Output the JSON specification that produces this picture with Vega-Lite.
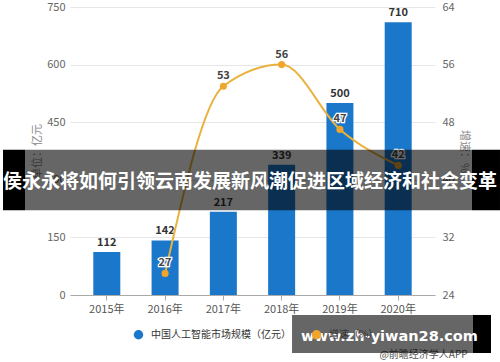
{
  "$schema": "https://vega.github.io/schema/vega-lite/v6.json",
  "width": 365,
  "height": 288,
  "autosize": {"type": "none"},
  "padding": {"left": 70, "top": 7, "right": 65, "bottom": 67},
  "background": "white",
  "config": {
    "view": {"stroke": null},
    "font": "Noto Sans CJK SC",
    "axis": {"labelFont": "Noto Sans CJK SC", "titleFont": "Noto Sans CJK SC"},
    "legend": {"labelFont": "Noto Sans CJK SC"}
  },
  "data": {
    "values": [
      {"year": "2015年", "size": 112, "rate": null},
      {"year": "2016年", "size": 142, "rate": 27},
      {"year": "2017年", "size": 217, "rate": 53},
      {"year": "2018年", "size": 339, "rate": 56},
      {"year": "2019年", "size": 500, "rate": 47},
      {"year": "2020年", "size": 710, "rate": 42}
    ]
  },
  "layer": [
    {
      "encoding": {
        "x": {
          "field": "year", "type": "nominal", "sort": null,
          "scale": {"paddingInner": 0.537, "paddingOuter": 0.4},
          "axis": {
            "title": null, "labelAngle": 0, "labelColor": "#555", "labelFontSize": 11,
            "tickColor": "#aaa", "tickSize": 5, "domainColor": "#aaa", "labelPadding": 3, "grid": false
          }
        },
        "y": {
          "field": "size", "type": "quantitative",
          "scale": {"domain": [0, 750], "nice": false},
          "axis": {
            "values": [0, 150, 300, 450, 600, 750], "title": "单位：亿元",
            "titleColor": "#888", "titleFontSize": 11, "titleFontWeight": "normal", "titlePadding": 4,
            "labelColor": "#666", "labelFontSize": 11, "labelPadding": 5,
            "ticks": false, "domain": false, "grid": true, "gridColor": "#e6e6e6"
          }
        }
      },
      "layer": [
        {
          "mark": {"type": "bar", "width": 27},
          "encoding": {
            "color": {
              "datum": "中国人工智能市场规模（亿元）",
              "scale": {"domain": ["中国人工智能市场规模（亿元）", "增速（%）"], "range": ["#1b77c9", "#f0a62c"]},
              "legend": {
                "title": null, "orient": "none", "direction": "horizontal", "legendX": 63, "legendY": 322,
                "symbolType": "circle", "symbolSize": 90, "labelFontSize": 10, "labelColor": "#333",
                "labelOffset": 7, "columnPadding": 20, "zindex": -1
              }
            }
          }
        },
        {
          "mark": {"type": "text", "dy": -9, "fontSize": 11, "fontWeight": "bold", "color": "#333"},
          "encoding": {"text": {"field": "size", "type": "quantitative"}}
        }
      ]
    },
    {
      "transform": [{"filter": "datum.rate != null"}],
      "encoding": {
        "x": {"field": "year", "type": "nominal", "sort": null},
        "y": {
          "field": "rate", "type": "quantitative",
          "scale": {"domain": [24, 64], "nice": false, "zero": false},
          "axis": {
            "orient": "right", "values": [24, 32, 40, 48, 56, 64], "title": "增速：%",
            "titleColor": "#888", "titleFontSize": 11, "titleFontWeight": "normal", "titlePadding": 4,
            "labelColor": "#666", "labelFontSize": 11, "labelPadding": 7,
            "ticks": false, "domain": false, "grid": false
          }
        }
      },
      "layer": [
        {"mark": {"type": "line", "color": "#e9b23c", "strokeWidth": 2, "interpolate": "monotone"}},
        {
          "mark": {"type": "point", "filled": true, "size": 50, "opacity": 1},
          "encoding": {"color": {"datum": "增速（%）"}}
        },
        {
          "mark": {"type": "text", "dy": -10, "fontSize": 11, "fontWeight": "bold", "stroke": "white", "strokeWidth": 2.5, "color": "white"},
          "encoding": {"text": {"field": "rate", "type": "quantitative"}}
        },
        {
          "mark": {"type": "text", "dy": -10, "fontSize": 11, "fontWeight": "bold", "color": "#444"},
          "encoding": {"text": {"field": "rate", "type": "quantitative"}}
        }
      ]
    },
    {
      "data": {"values": [{"banner": "侯永永将如何引领云南发展新风潮促进区域经济和社会变革", "site": "www.zh-yiwan28.com", "source": "@前瞻经济学人APP"}]},
      "encoding": {
        "y": {"datum": 0, "type": "quantitative", "scale": {"domain": [0, 750], "nice": false}, "axis": null}
      },
      "layer": [
        {
          "mark": {"type": "text", "dx": 171, "fontSize": 10, "color": "#555", "baseline": "middle"},
          "encoding": {"y": {"datum": -155, "type": "quantitative"}, "text": {"field": "source"}}
        },
        {
          "mark": {"type": "rect", "color": "black", "opacity": 0.6, "xOffset": -68.3, "x2Offset": 60.3},
          "encoding": {
            "x": {"datum": "2015年", "type": "nominal", "bandPosition": 0},
            "x2": {"datum": "2020年", "bandPosition": 1},
            "y": {"datum": 221, "type": "quantitative"}, "y2": {"datum": 378}
          }
        },
        {
          "mark": {"type": "rect", "color": "black", "opacity": 1, "xOffset": -90.3, "x2Offset": -68.3},
          "encoding": {
            "x": {"datum": "2015年", "type": "nominal", "bandPosition": 0},
            "x2": {"datum": "2015年", "bandPosition": 0},
            "y": {"datum": 221, "type": "quantitative"}, "y2": {"datum": 378}
          }
        },
        {
          "mark": {"type": "rect", "color": "black", "opacity": 1, "xOffset": 60.3, "x2Offset": 88.3},
          "encoding": {
            "x": {"datum": "2020年", "type": "nominal", "bandPosition": 1},
            "x2": {"datum": "2020年", "bandPosition": 1},
            "y": {"datum": 221, "type": "quantitative"}, "y2": {"datum": 378}
          }
        },
        {
          "mark": {"type": "text", "dx": -2.5, "fontSize": 19, "fontWeight": "bold", "color": "white", "baseline": "middle"},
          "encoding": {"y": {"datum": 294, "type": "quantitative"}, "text": {"field": "banner"}}
        },
        {
          "mark": {"type": "rect", "color": "black", "opacity": 0.6, "xOffset": -34.4, "x2Offset": 61.3},
          "encoding": {
            "x": {"datum": "2019年", "type": "nominal", "bandPosition": 0},
            "x2": {"datum": "2020年", "bandPosition": 1},
            "y": {"datum": -151, "type": "quantitative"}, "y2": {"datum": -52}
          }
        },
        {
          "mark": {"type": "rect", "color": "black", "opacity": 1, "xOffset": 61.3, "x2Offset": 79.3},
          "encoding": {
            "x": {"datum": "2020年", "type": "nominal", "bandPosition": 1},
            "x2": {"datum": "2020年", "bandPosition": 1},
            "y": {"datum": -151, "type": "quantitative"}, "y2": {"datum": -52}
          }
        },
        {
          "mark": {"type": "text", "dx": 137, "fontSize": 14.5, "fontWeight": "bold", "color": "white", "font": "DejaVu Sans", "baseline": "middle"},
          "encoding": {"y": {"datum": -109, "type": "quantitative"}, "text": {"field": "site"}}
        }
      ]
    }
  ],
  "resolve": {"scale": {"y": "independent"}, "axis": {"y": "independent"}}
}
